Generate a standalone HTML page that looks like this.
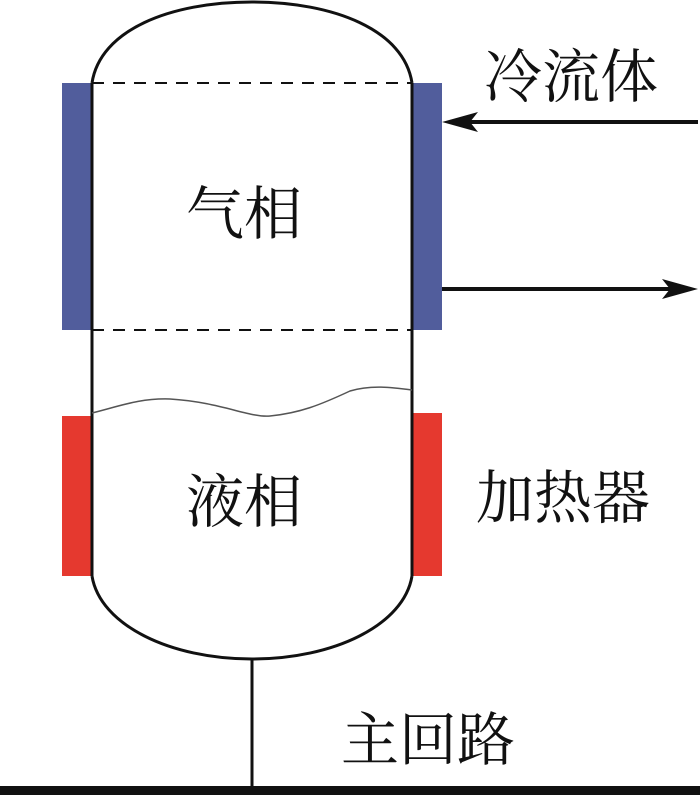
<!DOCTYPE html>
<html><head><meta charset="utf-8"><style>
html,body{margin:0;padding:0;background:#fff;}
svg{display:block}
text{font-family:"Liberation Serif","Noto Serif CJK SC",serif;font-size:58px;fill:#111;}
</style></head><body>
<svg width="700" height="795" viewBox="0 0 700 795" xmlns="http://www.w3.org/2000/svg">
<rect x="62" y="83" width="30" height="247" fill="#515d9c"/>
<rect x="412" y="83" width="30" height="247" fill="#515d9c"/>
<rect x="62" y="416" width="30" height="160" fill="#e5392f"/>
<rect x="412" y="413" width="30" height="163" fill="#e5392f"/>
<path d="M92,83 C100,30 170,2 252,2 C334,2 404,30 412,83" fill="none" stroke="#111" stroke-width="3"/>
<path d="M92,576 C100,625 170,659 252,659 C334,659 404,625 412,576" fill="none" stroke="#111" stroke-width="3"/>
<line x1="92" y1="83" x2="92" y2="576" stroke="#111" stroke-width="3"/>
<line x1="412" y1="83" x2="412" y2="576" stroke="#111" stroke-width="3"/>
<line x1="92" y1="83" x2="412" y2="83" stroke="#111" stroke-width="2" stroke-dasharray="12,9"/>
<line x1="92" y1="330" x2="412" y2="330" stroke="#111" stroke-width="2" stroke-dasharray="12,9"/>
<path d="M92,413 C120,406 140,398 170,399 C220,402 250,418 270,416 C300,413 320,405 350,391 C370,385 390,387 412,390" fill="none" stroke="#555" stroke-width="1.5"/>
<line x1="252" y1="659" x2="252" y2="790" stroke="#111" stroke-width="3"/>
<rect x="0" y="786" width="700" height="9" fill="#111"/>
<line x1="470" y1="122" x2="698" y2="122" stroke="#111" stroke-width="4"/>
<path d="M442,122 L478,112 L470,122 L478,132 Z" fill="#111"/>
<line x1="442" y1="289" x2="670" y2="289" stroke="#111" stroke-width="4"/>
<path d="M698,289 L662,279 L670,289 L662,299 Z" fill="#111"/>
<text x="484" y="97">冷流体</text>
<text x="186" y="234">气相</text>
<text x="186" y="522">液相</text>
<text x="476" y="518">加热器</text>
<text x="341" y="760">主回路</text>
</svg>
</body></html>
